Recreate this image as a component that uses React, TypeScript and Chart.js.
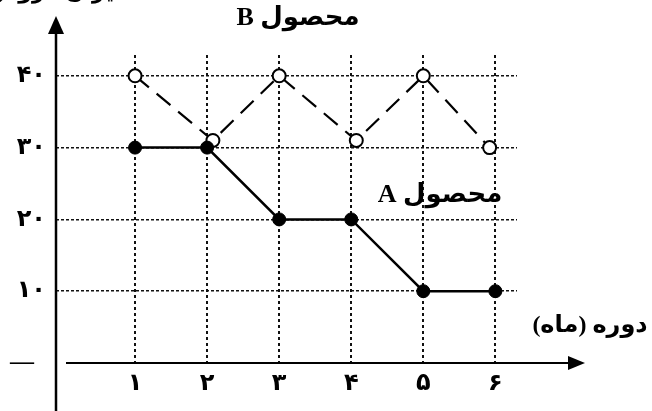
import React, { useEffect, useRef } from "react";
import { Chart, registerables } from "chart.js";

Chart.register(...registerables);

const categories = [1, 2, 3, 4, 5, 6];
const xTickLabels = ["۱", "۲", "۳", "۴", "۵", "۶"];
const productA = [30, 30, 20, 20, 10, 10];
const productBX = [1, 2.08, 3, 4.07, 5, 5.92];
const productB = [40, 31, 40, 31, 40, 30];
const yTicks = [0, 10, 20, 30, 40];
const yTickLabels = ["—  ", "۱۰", "۲۰", "۳۰", "۴۰"];

const titleB = "محصول B";
const titleA = "محصول A";
const xTitle = "دوره (ماه)";
const yTitle = "میزان فروش";

const FONT = "'Liberation Serif', 'DejaVu Sans', serif";

export default function App() {
  const ref = useRef<HTMLCanvasElement>(null);
  useEffect(() => {
    const canvas = ref.current!;
    const decor = {
      id: "decor",
      afterDraw(chart: any) {
        const ctx = chart.ctx as CanvasRenderingContext2D;
        const xs = chart.scales.x;
        const ys = chart.scales.y;
        const ax = xs.left;
        const ay = ys.getPixelForValue(0);
        ctx.save();
        ctx.fillStyle = "#000";
        ctx.strokeStyle = "#000";
        // y axis
        ctx.lineWidth = 2.5;
        ctx.beginPath();
        ctx.moveTo(ax, 411);
        ctx.lineTo(ax, 30);
        ctx.stroke();
        ctx.beginPath();
        ctx.moveTo(ax, 16);
        ctx.lineTo(ax - 8, 34);
        ctx.lineTo(ax + 8, 34);
        ctx.closePath();
        ctx.fill();
        // x axis
        ctx.lineWidth = 2;
        ctx.beginPath();
        ctx.moveTo(ax + 10, ay);
        ctx.lineTo(572, ay);
        ctx.stroke();
        ctx.beginPath();
        ctx.moveTo(585, ay);
        ctx.lineTo(568, ay - 7);
        ctx.lineTo(568, ay + 7);
        ctx.closePath();
        ctx.fill();
        // texts
        ctx.direction = "rtl";
        ctx.textAlign = "center";
        ctx.textBaseline = "middle";
        ctx.font = `bold 26px ${FONT}`;
        ctx.fillText(titleB, 298, 18);
        ctx.fillText(titleA, 440, 195);
        ctx.font = `bold 24px ${FONT}`;
        ctx.fillText(xTitle, 590, 326);
        ctx.textAlign = "left";
        ctx.font = `bold 22px ${FONT}`;
        ctx.fillText(yTitle, -12, -8);
        ctx.restore();
      },
    };
    const chart = new Chart(canvas, {
      type: "line",
      data: {
        datasets: [
          {
            label: "A",
            data: categories.map((c, i) => ({ x: c, y: productA[i] })),
            borderColor: "#000",
            backgroundColor: "#000",
            borderWidth: 2.5,
            pointRadius: 6.5,
            pointBackgroundColor: "#000",
            pointBorderColor: "#000",
            pointBorderWidth: 1,
            tension: 0,
            order: 0,
            clip: false as any,
          },
          {
            label: "B",
            data: productBX.map((c, i) => ({ x: c, y: productB[i] })),
            borderColor: "#000",
            backgroundColor: "#fff",
            borderWidth: 2.2,
            borderDash: [18, 10],
            pointRadius: 6.5,
            pointBackgroundColor: "#fff",
            pointBorderColor: "#000",
            pointBorderWidth: 2,
            tension: 0,
            order: 1,
            clip: false as any,
          },
        ],
      },
      options: {
        animation: false,
        responsive: false,
        events: [],
        layout: { padding: { top: 55, right: 135, left: 0, bottom: 0 } },
        plugins: { legend: { display: false }, tooltip: { enabled: false }, title: { display: false } },
        scales: {
          x: {
            type: "linear",
            min: -0.097,
            max: 6.3,
            afterBuildTicks: (s: any) => {
              s.ticks = categories.map((v) => ({ value: v }));
            },
            afterFit: (s: any) => {
              s.height = 48;
            },
            grid: { color: "#111", lineWidth: 2, drawTicks: false },
            border: { display: false, dash: [3, 3] },
            ticks: {
              padding: 6,
              color: "#000",
              font: { family: FONT, size: 24, weight: "bold" },
              callback: (v: any) => {
                const i = categories.indexOf(Number(v));
                return i >= 0 ? xTickLabels[i] : "";
              },
            },
          },
          y: {
            type: "linear",
            min: 0,
            max: 42.9,
            afterBuildTicks: (s: any) => {
              s.ticks = yTicks.map((v) => ({ value: v }));
            },
            afterFit: (s: any) => {
              s.width = 56;
            },
            grid: {
              color: (c: any) => (c.tick && c.tick.value === 0 ? "rgba(0,0,0,0)" : "#111"),
              lineWidth: 1.5,
              drawTicks: false,
            },
            border: { display: false, dash: [3, 2] },
            ticks: {
              padding: 10,
              color: "#000",
              font: { family: FONT, size: 24, weight: "bold" },
              callback: (v: any) => {
                const i = yTicks.indexOf(Number(v));
                return i >= 0 ? yTickLabels[i] : "";
              },
            },
          },
        },
      },
      plugins: [decor],
    } as any);
    return () => chart.destroy();
  }, []);
  return (
    <div style={{ position: "fixed", left: 0, top: 0, width: 652, height: 411, background: "#fff" }}>
      <canvas ref={ref} width={652} height={411} />
    </div>
  );
}
